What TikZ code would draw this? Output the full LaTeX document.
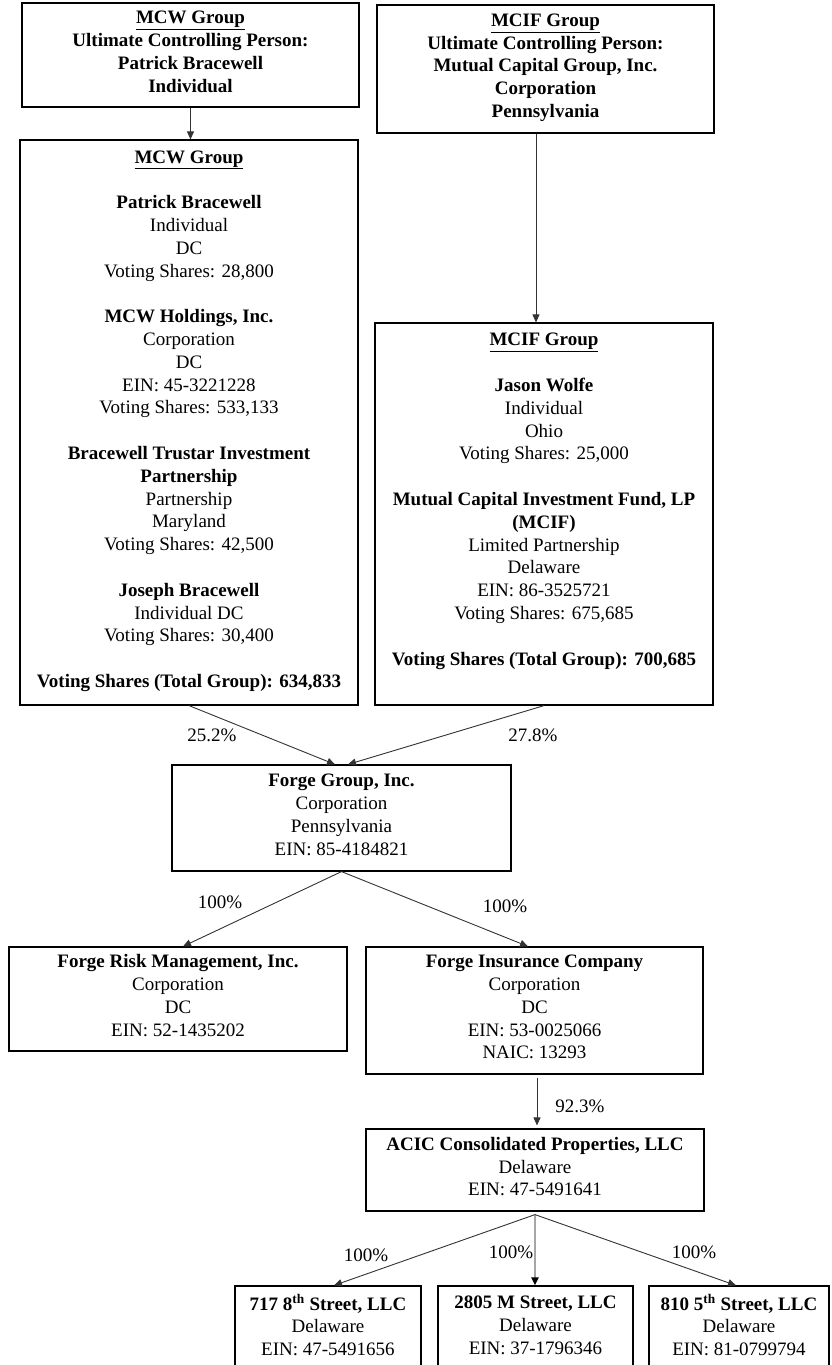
\documentclass[tikz,border=0pt]{standalone}
\usepackage{fontspec}
\setmainfont{Liberation Serif}
\usetikzlibrary{arrows.meta,calc}
\tikzset{
  box/.style={draw=black, line width=1.2pt, align=center, inner sep=0pt,
    font=\fontsize{19}{22.8}\selectfont,
    execute at begin node=\strut, execute at end node=\strut},
  conn/.style={line width=0.9pt, draw=black!80, -{Triangle[length=8pt,width=7pt]}},
  grayconn/.style={line width=2.2pt, draw=gray!70, -{Triangle[length=8pt,width=7pt,color=black]}},
  pct/.style={inner sep=0pt, font=\fontsize{19}{22.8}\selectfont},
}
\begin{document}
\begin{tikzpicture}[x=1pt,y=-1pt]
\clip (0,0) rectangle (831,1365);
\fill[white] (0,0) rectangle (831,1365);

% top boxes
\node[box, minimum width=337pt, minimum height=104pt] (mcwtop) at (190.5,55)
  {\underline{\textbf{MCW Group}}\\ \textbf{Ultimate Controlling Person:}\\ \textbf{Patrick Bracewell}\\ \textbf{Individual}};
\node[box, minimum width=337pt, minimum height=128pt] (mciftop) at (545.5,69)
  {\underline{\textbf{MCIF Group}}\\ \textbf{Ultimate Controlling Person:}\\ \textbf{Mutual Capital Group, Inc.}\\ \textbf{Corporation}\\ \textbf{Pennsylvania}};

% group boxes
\node[box, minimum width=338pt, minimum height=565pt] (mcwbig) at (189,422.5)
  {\underline{\textbf{MCW Group}}\\ \mbox{}\\
   \textbf{Patrick Bracewell}\\ Individual\\ DC\\ Voting Shares: 28,800\\ \mbox{}\\
   \textbf{MCW Holdings, Inc.}\\ Corporation\\ DC\\ EIN: 45-3221228\\ Voting Shares: 533,133\\ \mbox{}\\
   \textbf{Bracewell Trustar Investment}\\ \textbf{Partnership}\\ Partnership\\ Maryland\\ Voting Shares: 42,500\\ \mbox{}\\
   \textbf{Joseph Bracewell}\\ Individual DC\\ Voting Shares: 30,400\\ \mbox{}\\
   \textbf{Voting Shares (Total Group): 634,833}};
\node[box, minimum width=338pt, minimum height=382pt] (mcifbig) at (544,514)
  {\underline{\textbf{MCIF Group}}\\ \mbox{}\\
   \textbf{Jason Wolfe}\\ Individual\\ Ohio\\ Voting Shares: 25,000\\ \mbox{}\\
   \textbf{Mutual Capital Investment Fund, LP}\\ \textbf{(MCIF)}\\ Limited Partnership\\ Delaware\\ EIN: 86-3525721\\ Voting Shares: 675,685\\ \mbox{}\\
   \textbf{Voting Shares (Total Group): 700,685}\\ \mbox{}};

% forge group
\node[box, minimum width=339pt, minimum height=106pt] (forge) at (341.5,818)
  {\textbf{Forge Group, Inc.}\\ Corporation\\ Pennsylvania\\ EIN: 85-4184821};

\node[box, minimum width=338pt, minimum height=104pt] (risk) at (178,999)
  {\textbf{Forge Risk Management, Inc.}\\ Corporation\\ DC\\ EIN: 52-1435202};
\node[box, minimum width=337pt, minimum height=127pt] (ins) at (534.5,1010.5)
  {\textbf{Forge Insurance Company}\\ Corporation\\ DC\\ EIN: 53-0025066\\ NAIC: 13293};

\node[box, minimum width=338pt, minimum height=82pt] (acic) at (535,1170)
  {\textbf{ACIC Consolidated Properties, LLC}\\ Delaware\\ EIN: 47-5491641};

\node[box, minimum width=186pt, minimum height=85pt] (b1) at (328,1328.5)
  {\textbf{717 8\textsuperscript{th} Street, LLC}\\ Delaware\\ EIN: 47-5491656};
\node[box, minimum width=195pt, minimum height=85pt] (b2) at (535.5,1328.5)
  {\textbf{2805 M Street, LLC}\\ Delaware\\ EIN: 37-1796346};
\node[box, minimum width=180pt, minimum height=85pt] (b3) at (739,1328.5)
  {\textbf{810 5\textsuperscript{th} Street, LLC}\\ Delaware\\ EIN: 81-0799794};

% connectors
\draw[conn] (mcwtop.south) -- (mcwtop.south |- mcwbig.north);
\draw[conn] ([xshift=-9.5pt]mciftop.south) -- ([xshift=-9.5pt]mciftop.south |- mcifbig.north);
\draw[conn] (mcwbig.south) -- ([xshift=-6.5pt]forge.north);
\draw[conn] (mcifbig.south) -- ([xshift=6.5pt]forge.north);
\draw[conn] (forge.south) -- ([xshift=5pt]risk.north);
\draw[conn] (forge.south) -- ([xshift=-6.5pt]ins.north);
\draw[conn, shorten <=3pt, shorten >=3pt] ([xshift=2.5pt]ins.south) -- ([xshift=2pt]acic.north);
\draw[conn] ([yshift=-3pt]acic.south) -- ([xshift=6pt]b1.north);
\draw[grayconn] ([yshift=-3pt]acic.south) -- (acic.south |- b2.north);
\draw[conn] ([yshift=-3pt]acic.south) -- ([xshift=-3pt]b3.north);

% percentage labels
\node[pct] (p1) at (212,735) {25.2\%};
\node[pct] (p2) at (533,735) {27.8\%};
\node[pct] (p3) at (220,902) {100\%};
\node[pct] (p4) at (505,906) {100\%};
\node[pct] (p5) at (580,1106) {92.3\%};
\node[pct] (p6) at (366,1255) {100\%};
\node[pct] (p7) at (511,1252) {100\%};
\node[pct] (p8) at (694,1252) {100\%};
\end{tikzpicture}
\end{document}
